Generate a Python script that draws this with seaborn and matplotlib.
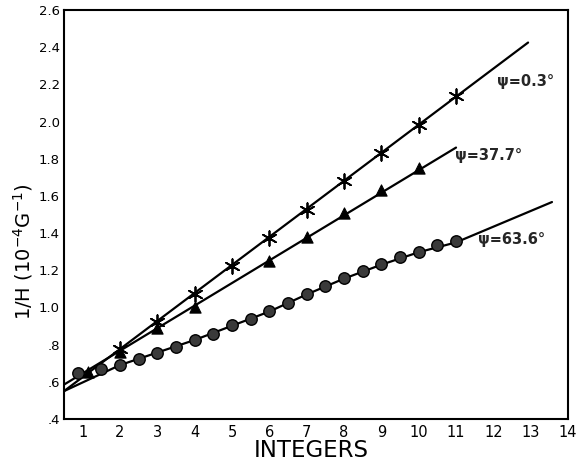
import matplotlib
matplotlib.use("Agg")
import matplotlib.pyplot as plt
import seaborn as sns

# ---- data ----
cross_x = [2, 3, 4, 5, 6, 7, 8, 9, 10, 11]
cross_y = [0.775, 0.92, 1.075, 1.225, 1.375, 1.525, 1.68, 1.83, 1.98, 2.135]
cross_line_x = [0.5, 12.93]
cross_line_y = [0.55, 2.425]

tri_x = [1.15, 2, 3, 4, 6, 7, 8, 9, 10]
tri_y = [0.655, 0.76, 0.89, 1.005, 1.25, 1.38, 1.51, 1.63, 1.75]
tri_line_x = [0.5, 11.0]
tri_line_y = [0.585, 1.86]

circ_x = [0.87, 1.5, 2, 2.5, 3, 3.5, 4, 4.5, 5, 5.5, 6, 6.5, 7, 7.5, 8, 8.5,
          9, 9.5, 10, 10.5, 11]
circ_y = [0.65, 0.668, 0.693, 0.722, 0.757, 0.787, 0.827, 0.857, 0.905, 0.938,
          0.98, 1.024, 1.075, 1.115, 1.16, 1.196, 1.234, 1.27, 1.30, 1.335, 1.355]
circ_line_x = [0.5, 2, 4, 6, 7, 8, 9, 10, 11, 13.57]
circ_line_y = [0.55, 0.69, 0.825, 0.978, 1.07, 1.155, 1.23, 1.297, 1.35, 1.567]

series_labels = ["ψ=0.3°", "ψ=37.7°", "ψ=63.6°"]
x_ticks = list(range(1, 15))
x_ticklabels = [str(v) for v in x_ticks]
y_ticks = [0.4, 0.6, 0.8, 1.0, 1.2, 1.4, 1.6, 1.8, 2.0, 2.2, 2.4, 2.6]
y_ticklabels = [".4", ".6", ".8", "1.0", "1.2", "1.4", "1.6", "1.8", "2.0",
                "2.2", "2.4", "2.6"]

sns.set_theme(style="white")
plt.rcParams['font.family'] = ['DejaVu Sans']

fig = plt.figure(figsize=(5.82, 4.66), dpi=100)
ax = fig.add_axes([0.110, 0.1009, 0.866, 0.8776])

lines = [(cross_line_x, cross_line_y), (tri_line_x, tri_line_y),
         (circ_line_x, circ_line_y)]
for lx, ly in lines:
    sns.lineplot(x=lx, y=ly, ax=ax, color="black", linewidth=1.6,
                 sort=False, estimator=None)

sns.scatterplot(x=circ_x, y=circ_y, ax=ax, marker="o", s=68,
                color="#3a3a3a", edgecolor="black", linewidth=1.0, zorder=3)
sns.scatterplot(x=tri_x, y=tri_y, ax=ax, marker="^", s=65,
                color="black", edgecolor="black", linewidth=0.8, zorder=3)
sns.scatterplot(x=cross_x, y=cross_y, ax=ax, marker=(6, 2, 0), s=110,
                color="black", linewidth=1.3, zorder=3)

ax.text(12.1, 2.215, series_labels[0], fontsize=10.5, fontweight="bold",
        va="center", ha="left")
ax.text(10.97, 1.82, series_labels[1], fontsize=10.5, fontweight="bold",
        va="center", ha="left")
ax.text(11.6, 1.365, series_labels[2], fontsize=10.5, fontweight="bold",
        va="center", ha="left")

ax.set_xlim(0.5, 14)
ax.set_ylim(0.4, 2.6)
ax.set_xticks(x_ticks)
ax.set_xticklabels(x_ticklabels)
ax.set_yticks(y_ticks)
ax.set_yticklabels(y_ticklabels)
ax.tick_params(axis="both", direction="in", length=7, width=1.3,
               color="black", labelcolor="black", pad=4)
ax.tick_params(axis="x", labelsize=10.5)
ax.tick_params(axis="y", labelsize=9.5, pad=3)

for sp in ax.spines.values():
    sp.set_visible(True)
    sp.set_color("black")
    sp.set_linewidth(1.5)

ax.set_xlabel("INTEGERS", fontsize=16.5, color="black")
ax.set_ylabel("1/H (10$^{-4}$G$^{-1}$)", fontsize=14, color="black")
ax.xaxis.set_label_coords(0.49, -0.05)
ax.yaxis.set_label_coords(-0.058, 0.41)

fig.savefig("out.png", dpi=100)
